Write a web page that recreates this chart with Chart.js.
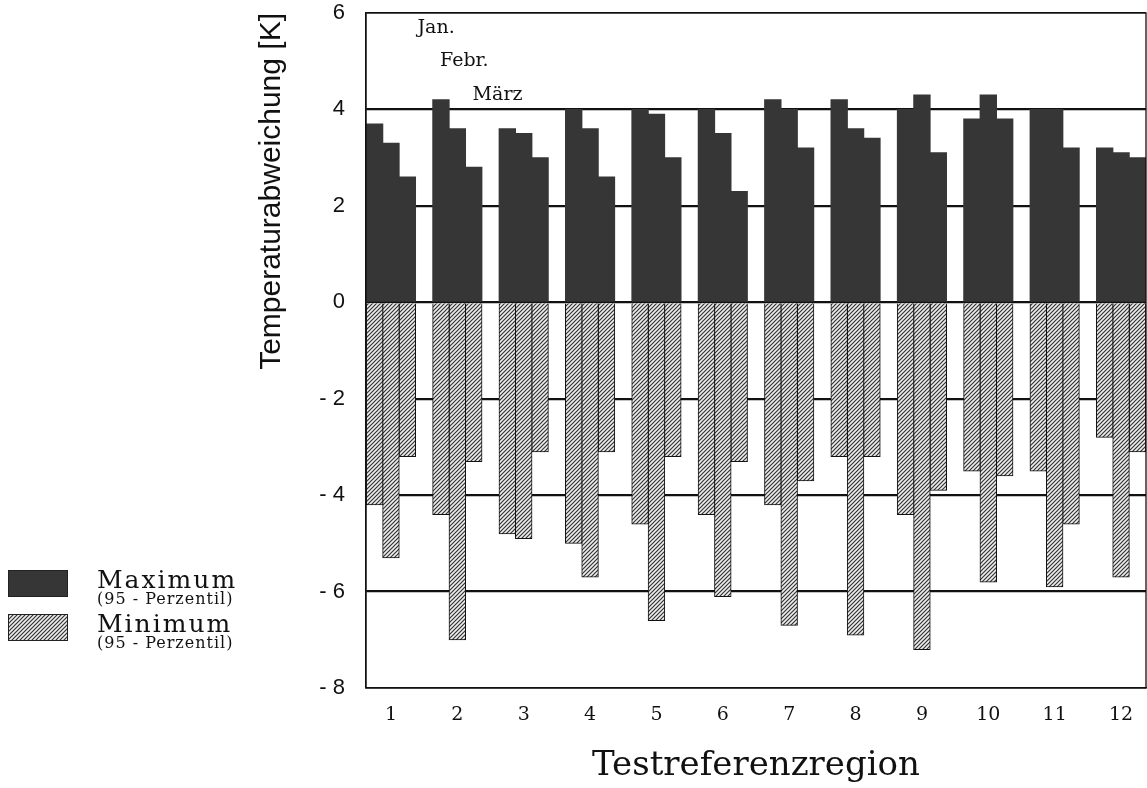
<!DOCTYPE html>
<html>
<head>
<meta charset="utf-8">
<script src="https://cdn.jsdelivr.net/npm/chart.js@4.4.1/dist/chart.umd.min.js"></script>
<style>
  html, body { margin: 0; padding: 0; background: #fff; }
  #wrap { width: 1147px; height: 788px; position: relative; }
</style>
</head>
<body>
<div id="wrap"><canvas id="tempChart"></canvas></div>
<script>
const regions = [1, 2, 3, 4, 5, 6, 7, 8, 9, 10, 11, 12];
const yTicks = [6, 4, 2, 0, -2, -4, -6, -8];

// Maximum (95-Perzentil)
const maxJan = [3.7, 4.2, 3.6, 4.0, 4.0, 4.0, 4.2, 4.2, 4.0, 3.8, 4.0, 3.2];
const maxFeb = [3.3, 3.6, 3.5, 3.6, 3.9, 3.5, 4.0, 3.6, 4.3, 4.3, 4.0, 3.1];
const maxMar = [2.6, 2.8, 3.0, 2.6, 3.0, 2.3, 3.2, 3.4, 3.1, 3.8, 3.2, 3.0];

// Minimum (95-Perzentil)
const minJan = [-4.2, -4.4, -4.8, -5.0, -4.6, -4.4, -4.2, -3.2, -4.4, -3.5, -3.5, -2.8];
const minFeb = [-5.3, -7.0, -4.9, -5.7, -6.6, -6.1, -6.7, -6.9, -7.2, -5.8, -5.9, -5.7];
const minMar = [-3.2, -3.3, -3.1, -3.1, -3.2, -3.3, -3.7, -3.2, -3.9, -3.6, -4.6, -3.1];

const monthLabels = ['Jan.', 'Febr.', 'März'];

const DARK = '#363636';

function makeHatch() {
  const c = document.createElement('canvas');
  c.width = 4; c.height = 4;
  const g = c.getContext('2d');
  g.fillStyle = '#eeeeee';
  g.fillRect(0, 0, 4, 4);
  g.strokeStyle = '#333';
  g.lineWidth = 1.2;
  g.beginPath();
  g.moveTo(0, 4); g.lineTo(4, 0);
  g.moveTo(-1, 1); g.lineTo(1, -1);
  g.moveTo(3, 5); g.lineTo(5, 3);
  g.stroke();
  return g.createPattern(c, 'repeat');
}
const hatch = makeHatch();

const toPoints = vals => vals.map((v, i) => ({ x: regions[i], y: v }));

function barSet(label, vals, stack, fill, edge, width) {
  return {
    label: label,
    data: toPoints(vals),
    stack: stack,
    backgroundColor: fill,
    borderColor: edge,
    borderWidth: width,
    borderSkipped: 'start',
    inflateAmount: 0.5,
    categoryPercentage: 0.74,
    barPercentage: 1.0,
  };
}

const datasets = [
  barSet('Maximum Jan.', maxJan, 'jan', DARK, '#262626', 0),
  barSet('Maximum Febr.', maxFeb, 'feb', DARK, '#262626', 0),
  barSet('Maximum März', maxMar, 'mar', DARK, '#262626', 0),
  barSet('Minimum Jan.', minJan, 'jan', hatch, '#111', 1),
  barSet('Minimum Febr.', minFeb, 'feb', hatch, '#111', 1),
  barSet('Minimum März', minMar, 'mar', hatch, '#111', 1),
];

// frame, month annotations and legend
const extras = {
  id: 'extras',
  afterDraw(chart) {
    const { ctx, chartArea: a, scales } = chart;
    const xs = scales.x, ys = scales.y;
    ctx.save();
    ctx.strokeStyle = '#111';
    ctx.lineWidth = 1.3;
    ctx.strokeRect(a.left, a.top, a.right - a.left, a.bottom - a.top);

    ctx.fillStyle = '#111';
    ctx.font = '19px "DejaVu Serif"';
    ctx.textBaseline = 'middle';
    ctx.textAlign = 'left';
    const spots = [[1.40, 5.69], [1.74, 5.0], [2.23, 4.3]];
    monthLabels.forEach((m, i) => {
      ctx.fillText(m, xs.getPixelForValue(spots[i][0]), ys.getPixelForValue(spots[i][1]));
    });

    // legend
    const items = [['Maximum', DARK, 570], ['Minimum', hatch, 614]];
    items.forEach(([name, fill, y]) => {
      ctx.fillStyle = fill;
      ctx.fillRect(8, y, 60, 27);
      ctx.strokeStyle = '#222';
      ctx.lineWidth = 1;
      ctx.strokeRect(8.5, y + 0.5, 59, 26);
      ctx.fillStyle = '#111';
      ctx.letterSpacing = '2px';
      ctx.font = '25px "DejaVu Serif"';
      ctx.fillText(name, 97, y + 11);
      ctx.letterSpacing = '1px';
      ctx.font = '16px "DejaVu Serif"';
      ctx.fillText('(95 - Perzentil)', 97, y + 30);
    });
    ctx.restore();
  }
};

new Chart(document.getElementById('tempChart'), {
  type: 'bar',
  data: { datasets: datasets },
  options: {
    responsive: true,
    maintainAspectRatio: false,
    animation: false,
    layout: { padding: { top: 13, right: 1, left: 250, bottom: 0 } },
    plugins: { legend: { display: false }, tooltip: { enabled: false } },
    scales: {
      x: {
        type: 'linear',
        min: 0.624,
        max: 12.376,
        offset: false,
        afterBuildTicks: s => { s.ticks = regions.map(v => ({ value: v })); },
        afterFit: s => { s.height = 100; s.paddingLeft = 0; s.paddingRight = 0; },
        grid: { display: false, drawTicks: false },
        border: { display: true, color: '#111', width: 1.3 },
        ticks: {
          color: '#111',
          font: { family: '"DejaVu Serif"', size: 19 },
          padding: 16,
          maxRotation: 0,
          autoSkip: false,
        },
        title: {
          display: true,
          text: 'Testreferenzregion',
          color: '#111',
          font: { family: '"DejaVu Serif"', size: 34 },
          padding: { top: 0, bottom: 1 },
        },
      },
      y: {
        stacked: true,
        min: -8,
        max: 6,
        afterBuildTicks: s => { s.ticks = yTicks.map(v => ({ value: v })); },
        afterFit: s => { s.width = 116; s.paddingTop = 0; s.paddingBottom = 0; },
        grid: {
          color: '#111',
          lineWidth: c => (c.tick && (c.tick.value === 6 || c.tick.value === -8)) ? 1.3 : 2.2,
          drawTicks: false,
        },
        border: { display: true, color: '#111', width: 1.3 },
        ticks: {
          color: '#111',
          font: { family: '"Liberation Sans"', size: 22 },
          padding: 21,
          callback: v => v < 0 ? '- ' + Math.abs(v) : String(v),
        },
        title: {
          display: true,
          text: 'Temperaturabweichung [K]',
          align: 'end',
          color: '#111',
          font: { family: '"Liberation Sans"', size: 30 },
          padding: { top: 4, bottom: 0 },
        },
      },
    },
  },
  plugins: [extras],
});
</script>
</body>
</html>
